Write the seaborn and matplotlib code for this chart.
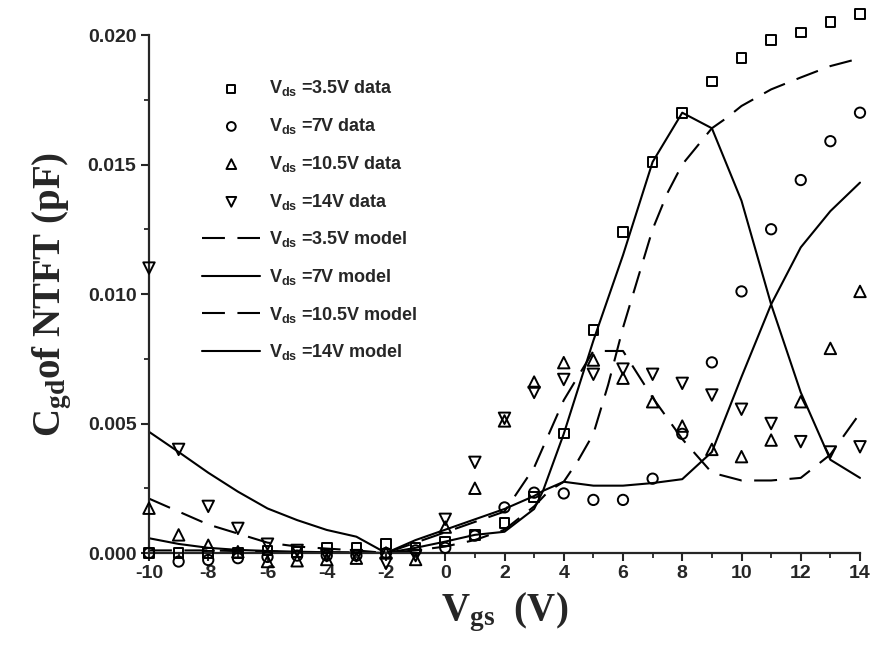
import matplotlib
matplotlib.use("Agg")
import matplotlib.pyplot as plt
import seaborn as sns
import pandas as pd
import numpy as np
from matplotlib.ticker import MultipleLocator, FormatStrFormatter

# ---------------- data ----------------
vgs = [-10, -9, -8, -7, -6, -5, -4, -3, -2, -1, 0, 1, 2, 3, 4, 5, 6, 7, 8, 9, 10, 11, 12, 13, 14]

data_35 = [0.0, 0.0, 0.0, 0.0, 0.0001, 0.00005, 0.0002, 0.0002, 0.00035, 0.0002, 0.00044, 0.0007,
           0.00115, 0.00217, 0.00462, 0.0086, 0.0124, 0.0151, 0.0170, 0.0182, 0.0191, 0.0198,
           0.0201, 0.0205, 0.0208]
data_7 = [0.0, -0.00033, -0.00027, -0.0002, -0.00015, -0.0001, -0.0001, -0.0001, 0.0, 0.0001,
          0.0002, 0.00067, 0.00176, 0.00233, 0.0023, 0.00205, 0.00205, 0.00287, 0.0046, 0.00736,
          0.0101, 0.0125, 0.0144, 0.0159, 0.0170]
data_105 = [0.00173, 0.0007, 0.0003, 0.00005, -0.00033, -0.0003, -0.00025, -0.0002, 0.0, -0.00025,
            0.0010, 0.0025, 0.0051, 0.0066, 0.00735, 0.00745, 0.00675, 0.00584, 0.0049, 0.0040,
            0.00372, 0.00436, 0.00584, 0.0079, 0.0101]
data_14 = [0.0110, 0.0040, 0.0018, 0.00095, 0.00034, 0.0001, -0.0001, -0.0001, -0.0004, -0.0001,
           0.0013, 0.0035, 0.0052, 0.0062, 0.0067, 0.0069, 0.0071, 0.0069, 0.00655, 0.0061,
           0.00555, 0.0050, 0.0043, 0.0039, 0.0041]

m35_x = [-10, -8, -6, -4, -2, -1, 0, 1, 2, 3, 3.5, 4, 4.5, 5, 5.5, 6, 6.5, 7, 7.5, 8, 8.5, 9,
         9.5, 10, 11, 12, 13, 14]
m35_y = [0.0001, 0.0001, 0.00005, 0.00003, 0.0, 0.0001, 0.00025, 0.0005, 0.0009, 0.0018, 0.0024,
         0.00275, 0.0036, 0.0046, 0.0065, 0.0087, 0.0106, 0.0125, 0.0139, 0.0150, 0.0157, 0.0164,
         0.0168, 0.01726, 0.0179, 0.01836, 0.0188, 0.0191]

m7_x = [-10, -9, -8, -7, -6, -5, -4, -3, -2, -1, 0, 1, 2, 3, 3.3, 4, 5, 6, 7, 8, 9, 10, 11, 12, 13, 14]
m7_y = [0.00057, 0.00035, 0.0002, 0.00012, 0.00008, 0.00005, 0.00003, 0.00002, 0.0, 0.0002,
        0.00044, 0.0007, 0.00082, 0.0017, 0.0024, 0.00275, 0.0026, 0.0026, 0.0027, 0.00285,
        0.0039, 0.0068, 0.0096, 0.0118, 0.0132, 0.0143]

m105_x = vgs
m105_y = [0.0021, 0.0016, 0.0011, 0.00075, 0.0004, 0.00025, 0.00017, 0.0001, 0.0, 0.0004, 0.0008,
          0.0012, 0.0016, 0.0033, 0.0059, 0.0078, 0.0078, 0.0060, 0.0044, 0.0031, 0.0028, 0.0028,
          0.0029, 0.0038, 0.0054]

m14_x = [-10, -9, -8, -7, -6, -5, -4, -3, -2, -1, 0, 1, 2, 3, 3.3, 4, 5, 6, 7, 8, 9, 10, 11, 12, 13, 14]
m14_y = [0.00468, 0.0039, 0.0031, 0.00237, 0.00172, 0.00127, 0.00089, 0.00063, 0.0, 0.0005,
         0.0009, 0.0013, 0.0017, 0.0022, 0.0024, 0.0046, 0.0082, 0.0115, 0.0151, 0.0170, 0.0164,
         0.0136, 0.0096, 0.0062, 0.0036, 0.0029]

labels_data = [r"$\mathsf{V_{ds}}$ =3.5V data", r"$\mathsf{V_{ds}}$ =7V data",
               r"$\mathsf{V_{ds}}$ =10.5V data", r"$\mathsf{V_{ds}}$ =14V data"]
labels_model = [r"$\mathsf{V_{ds}}$ =3.5V model", r"$\mathsf{V_{ds}}$ =7V model",
                r"$\mathsf{V_{ds}}$ =10.5V model", r"$\mathsf{V_{ds}}$ =14V model"]

# ---------------- style ----------------
sns.set_style("ticks")
plt.rcParams["font.family"] = ["Liberation Sans", "DejaVu Sans"]
plt.rcParams["font.weight"] = "bold"
plt.rcParams["axes.unicode_minus"] = False
plt.rcParams["mathtext.fontset"] = "custom"
plt.rcParams["mathtext.rm"] = "Liberation Serif:bold"
plt.rcParams["mathtext.bf"] = "Liberation Serif:bold"
plt.rcParams["mathtext.it"] = "Liberation Serif:bold"
plt.rcParams["mathtext.sf"] = "Liberation Sans:bold"

fig = plt.figure(figsize=(8.76, 6.58), dpi=100)
ax = fig.add_axes([149 / 876, 1 - 553 / 658, 711 / 876, 518 / 658])

markers = ["s", "o", "^", "v"]
sizes = [48, 55, 68, 68]
data_sets = [data_35, data_7, data_105, data_14]
handles_data = []
for ys, mk, sz, lab in zip(data_sets, markers, sizes, labels_data):
    df = pd.DataFrame({"Vgs": vgs, "C": ys})
    sns.scatterplot(data=df, x="Vgs", y="C", marker=mk, s=sz, facecolor="none",
                    edgecolor="black", linewidth=1.4, ax=ax, clip_on=False, zorder=3,
                    legend=False)
    handles_data.append(ax.collections[-1])

model_sets = [(m35_x, m35_y, (0, (11, 6))), (m7_x, m7_y, "-"),
              (m105_x, m105_y, (0, (11, 6))), (m14_x, m14_y, "-")]
handles_model = []
for (mx, my, ls), lab in zip(model_sets, labels_model):
    df = pd.DataFrame({"Vgs": mx, "C": my})
    sns.lineplot(data=df, x="Vgs", y="C", color="black", linewidth=1.5, linestyle=ls,
                 ax=ax, errorbar=None, clip_on=False, zorder=2)
    handles_model.append(ax.lines[-1])

ax.set_xlim(-10, 14)
ax.set_ylim(0, 0.020)
ax.xaxis.set_major_locator(MultipleLocator(2))
ax.xaxis.set_minor_locator(MultipleLocator(1))
ax.yaxis.set_major_locator(MultipleLocator(0.005))
ax.yaxis.set_minor_locator(MultipleLocator(0.0025))
ax.yaxis.set_major_formatter(FormatStrFormatter("%.3f"))
sns.despine(ax=ax)
for sp in ["left", "bottom"]:
    ax.spines[sp].set_linewidth(1.6)
ax.tick_params(which="major", direction="out", length=6, width=1.5, labelsize=14, pad=3)
ax.tick_params(which="minor", direction="out", length=3.5, width=1.3)
for t in ax.get_xticklabels() + ax.get_yticklabels():
    t.set_fontweight("bold")

ax.set_xlabel(r"$\mathbf{V_{gs}}$  (V)", fontsize=28, fontfamily="Liberation Serif",
              fontweight="bold", labelpad=6)
ax.set_ylabel(r"$\mathbf{C_{gd}}$of NTFT (pF)", fontsize=28, fontfamily="Liberation Serif",
              fontweight="bold", labelpad=10)

leg = ax.legend(handles_data + handles_model, labels_data + labels_model,
                loc="upper left", bbox_to_anchor=(0.065, 0.93), frameon=False,
                fontsize=13, handlelength=3.2, handletextpad=0.5, labelspacing=0.98,
                borderaxespad=0.0, markerscale=0.85)
for t in leg.get_texts():
    t.set_fontweight("bold")

fig.savefig("out.png", dpi=100)
